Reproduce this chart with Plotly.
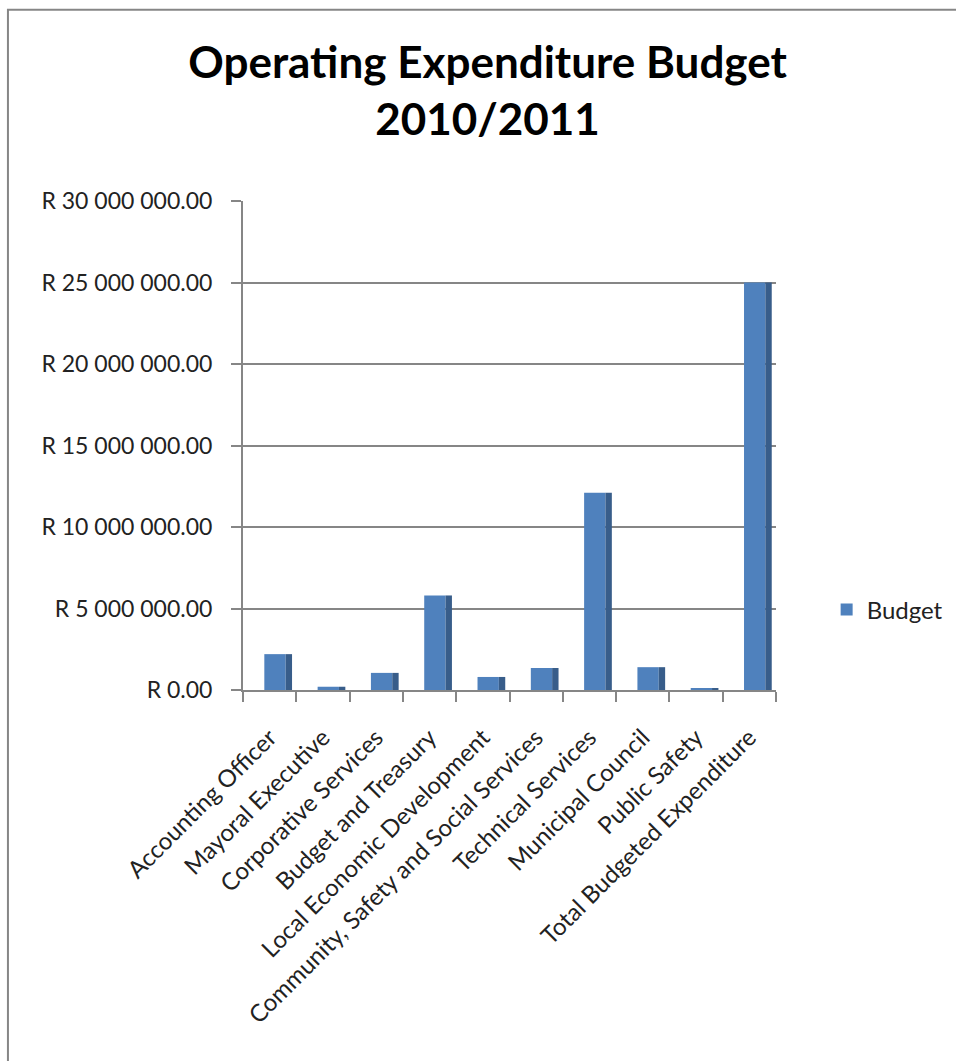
import plotly.graph_objects as go

categories = [
    "Accounting Officer",
    "Mayoral Executive",
    "Corporative Services",
    "Budget and Treasury",
    "Local Economic Development",
    "Community, Safety and Social Services",
    "Technical Services",
    "Municipal Council",
    "Public Safety",
    "Total Budgeted Expenditure",
]
budget = [2200000, 200000, 1050000, 5800000, 800000, 1350000, 12100000, 1400000, 100000, 25000000]

tick_values = [0, 5000000, 10000000, 15000000, 20000000, 25000000, 30000000]
tick_labels = ["R 0.00", "R 5 000 000.00", "R 10 000 000.00", "R 15 000 000.00",
               "R 20 000 000.00", "R 25 000 000.00", "R 30 000 000.00"]

FONT = "Lato"
GRAY = "#868686"
BLUE = "#4F81BD"
DARK = "#385D8A"

fig = go.Figure()
fig.add_trace(go.Bar(
    x=categories, y=budget, name="Budget",
    marker=dict(color=BLUE, line=dict(width=0)),
    width=0.40, offset=-0.10,
))
fig.add_trace(go.Bar(
    x=categories, y=budget, name="Budget side", showlegend=False,
    marker=dict(color=DARK, line=dict(width=0)),
    width=0.12, offset=0.30,
))

fig.update_layout(
    width=956, height=1061,
    margin=dict(l=243, r=180, t=201, b=371, autoexpand=False),
    paper_bgcolor="white", plot_bgcolor="white",
    barmode="overlay",
    font=dict(family=FONT, color="#222222"),
    title=dict(
        text="<b>Operating Expenditure Budget<br>2010/2011</b>",
        x=0.51, xanchor="center", xref="container",
        y=1 - 78 / 1061, yanchor="top", yref="container",
        font=dict(family=FONT, size=44, color="black"),
    ),
    showlegend=True,
    legend=dict(
        x=1.095, xanchor="left", y=0.164, yanchor="middle",
        font=dict(family=FONT, size=24, color="#222222"),
        bgcolor="rgba(0,0,0,0)", itemwidth=30,
    ),
    xaxis=dict(
        type="category",
        range=[-0.5, 9.5],
        automargin=False,
        showline=True, linecolor=GRAY, linewidth=2,
        ticks="outside", ticklen=10, tickwidth=2, tickcolor=GRAY,
        tickson="boundaries",
        tickangle=-45,
        tickfont=dict(family=FONT, size=24, color="#222222"),
        ticklabelstandoff=22,
        showgrid=False,
    ),
    yaxis=dict(
        range=[0, 30000000],
        automargin=False,
        tickvals=tick_values, ticktext=tick_labels,
        showline=True, linecolor=GRAY, linewidth=2,
        ticks="outside", ticklen=10, tickwidth=2, tickcolor=GRAY,
        showgrid=True, gridcolor=GRAY, gridwidth=2,
        zeroline=False,
        tickfont=dict(family=FONT, size=23, color="#222222"),
        ticklabelstandoff=14,
    ),
    shapes=[dict(
        type="rect", xref="paper", yref="paper",
        x0=-0.441, x1=1.6, y0=-1.0, y1=1.391,
        line=dict(color=GRAY, width=2), fillcolor="rgba(0,0,0,0)", layer="below",
    )],
)

fig.write_html("out.html")
